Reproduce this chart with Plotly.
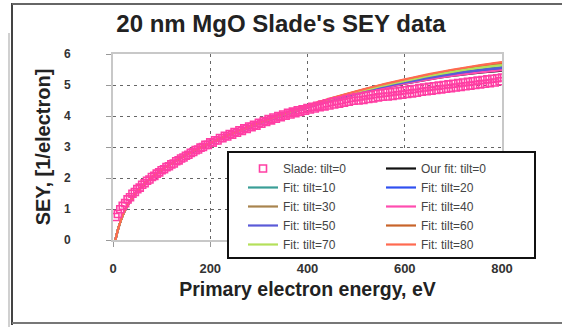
import plotly.graph_objects as go

# Measured secondary electron yield (Slade), 20 nm MgO, tilt = 0
slade_energy = [
    5, 10, 15, 20, 25, 30, 35, 40, 45, 50, 55, 60, 65, 70, 75, 80, 85, 90, 95, 100,
    105, 110, 115, 120, 125, 130, 135, 140, 145, 150, 155, 160, 165, 170, 175, 180, 185, 190, 195, 200,
    205, 210, 215, 220, 225, 230, 235, 240, 245, 250, 255, 260, 265, 270, 275, 280, 285, 290, 295, 300,
    305, 310, 315, 320, 325, 330, 335, 340, 345, 350, 355, 360, 365, 370, 375, 380, 385, 390, 395, 400,
    405, 410, 415, 420, 425, 430, 435, 440, 445, 450, 455, 460, 465, 470, 475, 480, 485, 490, 495, 500,
    505, 510, 515, 520, 525, 530, 535, 540, 545, 550, 555, 560, 565, 570, 575, 580, 585, 590, 595, 600,
    605, 610, 615, 620, 625, 630, 635, 640, 645, 650, 655, 660, 665, 670, 675, 680, 685, 690, 695, 700,
    705, 710, 715, 720, 725, 730, 735, 740, 745, 750, 755, 760, 765, 770, 775, 780, 785, 790, 795, 800,
]
slade_sey = [
    0.74, 0.84, 0.99, 1.10, 1.19, 1.31, 1.38, 1.49, 1.55, 1.64, 1.69, 1.78, 1.83, 1.91, 1.95, 2.03, 2.07, 2.14, 2.18, 2.25,
    2.28, 2.35, 2.38, 2.44, 2.47, 2.54, 2.57, 2.63, 2.66, 2.72, 2.75, 2.81, 2.84, 2.90, 2.92, 2.98, 3.00, 3.07, 3.07, 3.15,
    3.14, 3.22, 3.21, 3.29, 3.28, 3.36, 3.34, 3.42, 3.40, 3.48, 3.46, 3.54, 3.52, 3.60, 3.58, 3.66, 3.64, 3.72, 3.69, 3.78,
    3.75, 3.84, 3.81, 3.90, 3.86, 3.95, 3.91, 4.00, 3.96, 4.05, 4.01, 4.10, 4.05, 4.14, 4.09, 4.18, 4.13, 4.22, 4.17, 4.26,
    4.21, 4.30, 4.24, 4.33, 4.28, 4.37, 4.31, 4.41, 4.34, 4.45, 4.37, 4.48, 4.40, 4.51, 4.43, 4.55, 4.46, 4.58, 4.49, 4.61,
    4.50, 4.63, 4.52, 4.66, 4.55, 4.68, 4.57, 4.71, 4.60, 4.73, 4.62, 4.75, 4.63, 4.77, 4.65, 4.79, 4.67, 4.81, 4.69, 4.83,
    4.71, 4.85, 4.73, 4.87, 4.75, 4.90, 4.78, 4.92, 4.80, 4.94, 4.82, 4.96, 4.84, 4.98, 4.86, 5.00, 4.88, 5.02, 4.90, 5.04,
    4.92, 5.06, 4.94, 5.08, 4.96, 5.10, 4.98, 5.12, 5.00, 5.14, 5.02, 5.16, 5.04, 5.18, 5.06, 5.20, 5.08, 5.22, 5.12, 5.24,
]

# Model curves
fit_energy = [5, 10, 15, 20, 30, 40, 50, 60, 80, 100, 125, 150, 200, 250,
              300, 350, 400, 450, 500, 550, 600, 650, 700, 750, 800]
fit_tilt0 = [0.00, 0.32, 0.58, 0.80, 1.12, 1.37, 1.57, 1.74, 2.02, 2.26, 2.52, 2.74, 3.12, 3.45,
             3.75, 4.02, 4.27, 4.50, 4.70, 4.88, 5.04, 5.18, 5.30, 5.39, 5.46]
fit_tilt10 = [0.00, 0.32, 0.58, 0.80, 1.12, 1.37, 1.57, 1.74, 2.02, 2.26, 2.52, 2.74, 3.12, 3.46,
              3.76, 4.04, 4.30, 4.53, 4.74, 4.93, 5.10, 5.25, 5.38, 5.49, 5.58]
fit_tilt20 = [0.00, 0.32, 0.58, 0.80, 1.12, 1.37, 1.57, 1.74, 2.02, 2.26, 2.52, 2.74, 3.12, 3.45,
              3.75, 4.03, 4.28, 4.51, 4.71, 4.90, 5.06, 5.21, 5.34, 5.44, 5.52]
fit_tilt30 = [0.00, 0.32, 0.58, 0.80, 1.12, 1.37, 1.57, 1.74, 2.02, 2.26, 2.52, 2.75, 3.13, 3.46,
              3.77, 4.06, 4.32, 4.56, 4.78, 4.98, 5.16, 5.32, 5.46, 5.58, 5.68]
fit_tilt40 = [0.00, 0.32, 0.58, 0.80, 1.12, 1.37, 1.57, 1.74, 2.02, 2.26, 2.52, 2.74, 3.12, 3.45,
              3.75, 4.02, 4.27, 4.50, 4.70, 4.88, 5.04, 5.18, 5.30, 5.40, 5.48]
fit_tilt50 = [0.00, 0.32, 0.58, 0.80, 1.12, 1.37, 1.57, 1.74, 2.02, 2.26, 2.52, 2.74, 3.12, 3.46,
              3.76, 4.04, 4.29, 4.52, 4.73, 4.92, 5.08, 5.23, 5.36, 5.47, 5.55]
fit_tilt60 = [0.00, 0.32, 0.58, 0.80, 1.12, 1.37, 1.57, 1.74, 2.02, 2.26, 2.52, 2.75, 3.13, 3.47,
              3.78, 4.07, 4.33, 4.57, 4.79, 4.99, 5.17, 5.33, 5.48, 5.61, 5.72]
fit_tilt70 = [0.00, 0.32, 0.58, 0.80, 1.12, 1.37, 1.57, 1.74, 2.02, 2.26, 2.52, 2.75, 3.13, 3.46,
              3.77, 4.05, 4.31, 4.55, 4.76, 4.96, 5.13, 5.29, 5.43, 5.55, 5.64]
fit_tilt80 = [0.00, 0.32, 0.58, 0.80, 1.12, 1.37, 1.57, 1.74, 2.02, 2.26, 2.52, 2.75, 3.13, 3.47,
              3.78, 4.07, 4.34, 4.58, 4.80, 5.00, 5.18, 5.35, 5.50, 5.63, 5.74]

x_ticks = [0, 200, 400, 600, 800]
y_ticks = [0, 1, 2, 3, 4, 5, 6]

# (name, values, colour, legend column, rank in column)
fits = [
    ("Our fit: tilt=0", fit_tilt0, "#111111", "legend2", 1),
    ("Fit: tilt=10", fit_tilt10, "#3a9e96", "legend", 2),
    ("Fit: tilt=20", fit_tilt20, "#3050f0", "legend2", 2),
    ("Fit: tilt=30", fit_tilt30, "#a8844e", "legend", 3),
    ("Fit: tilt=40", fit_tilt40, "#ff4db0", "legend2", 3),
    ("Fit: tilt=50", fit_tilt50, "#5a5ad8", "legend", 4),
    ("Fit: tilt=60", fit_tilt60, "#c8642a", "legend2", 4),
    ("Fit: tilt=70", fit_tilt70, "#b4e05a", "legend", 5),
    ("Fit: tilt=80", fit_tilt80, "#ff6a50", "legend2", 5),
]

FONT = "Liberation Sans, Arial, sans-serif"
fig = go.Figure()

for name, vals, color, leg, rank in fits:
    fig.add_trace(go.Scatter(
        x=fit_energy, y=vals, mode="lines", name=name,
        line=dict(color=color, width=2.2, shape="spline"),
        legend=leg, legendrank=rank,
    ))

fig.add_trace(go.Scatter(
    x=slade_energy, y=slade_sey, mode="markers", name="Slade: tilt=0",
    marker=dict(symbol="square-open", size=7, color="#ff3fa4", line=dict(width=1.6)),
    legend="legend", legendrank=1,
))

# plot area in pixels: x 113..502, y 54..240
L, R, T, B = 113, 502, 54, 240
W, H = R - L, B - T


def px(x):
    return (x - L) / W


def py(y):
    return (B - y) / H


shapes = [
    # legend box
    dict(type="rect", xref="paper", yref="paper", layer="above",
         x0=px(228), x1=px(535), y0=py(258), y1=py(152),
         line=dict(color="#111111", width=2), fillcolor="white"),
    # page frame
    dict(type="line", xref="paper", yref="paper", x0=px(12), x1=px(12), y0=py(3), y1=py(325),
         line=dict(color="#444444", width=2)),
    dict(type="line", xref="paper", yref="paper", x0=px(12), x1=px(562), y0=py(4), y1=py(4),
         line=dict(color="#666666", width=2)),
    dict(type="line", xref="paper", yref="paper", x0=px(12), x1=px(562), y0=py(323), y1=py(323),
         line=dict(color="#777777", width=2)),
    dict(type="line", xref="paper", yref="paper", x0=px(9), x1=px(9), y0=py(33), y1=py(327),
         line=dict(color="#d0d0d0", width=2)),
]

legend_common = dict(
    bgcolor="rgba(0,0,0,0)", borderwidth=0, yanchor="top", xanchor="left",
    font=dict(family=FONT, size=12, color="#444444"), traceorder="normal",
    itemwidth=30,
)

fig.update_layout(
    width=562, height=327,
    margin=dict(l=L, r=562 - R, t=T, b=327 - B),
    paper_bgcolor="white", plot_bgcolor="white",
    font=dict(family=FONT, color="#222222"),
    title=dict(text="20 nm MgO Slade's SEY data", x=0.5, xref="container", xanchor="center",
               y=1 - 24 / 327, yref="container", yanchor="middle",
               font=dict(family=FONT, size=24, color="#222222", weight="bold")),
    xaxis=dict(range=[0, 800], tickvals=x_ticks, ticks="outside", ticklen=5, tickcolor="#999999",
               showline=True, linecolor="#c8c8c8", linewidth=2, mirror=True,
               showgrid=True, gridcolor="#666666", gridwidth=1.3, griddash="3px,4px",
               zeroline=False, ticklabelstandoff=10,
               tickfont=dict(family=FONT, size=13, color="#333333", weight="bold"),
               title=dict(text="Primary electron energy, eV", standoff=8,
                          font=dict(family=FONT, size=19.5, color="#222222", weight="bold"))),
    yaxis=dict(range=[0, 6], tickvals=y_ticks, ticks="outside", ticklen=5, tickcolor="#999999",
               showline=True, linecolor="#c8c8c8", linewidth=2, mirror=True,
               showgrid=True, gridcolor="#666666", gridwidth=1.3, griddash="3px,4px",
               zeroline=False, ticklabelstandoff=33,
               tickfont=dict(family=FONT, size=12, color="#333333", weight="bold"),
               title=dict(text="SEY, [1/electron]", standoff=8,
                          font=dict(family=FONT, size=20, color="#222222", weight="bold"))),
    legend=dict(x=px(243), y=py(154), **legend_common),
    legend2=dict(x=px(381), y=py(154), **legend_common),
    shapes=shapes,
    showlegend=True,
)

fig.write_html("out.html")
